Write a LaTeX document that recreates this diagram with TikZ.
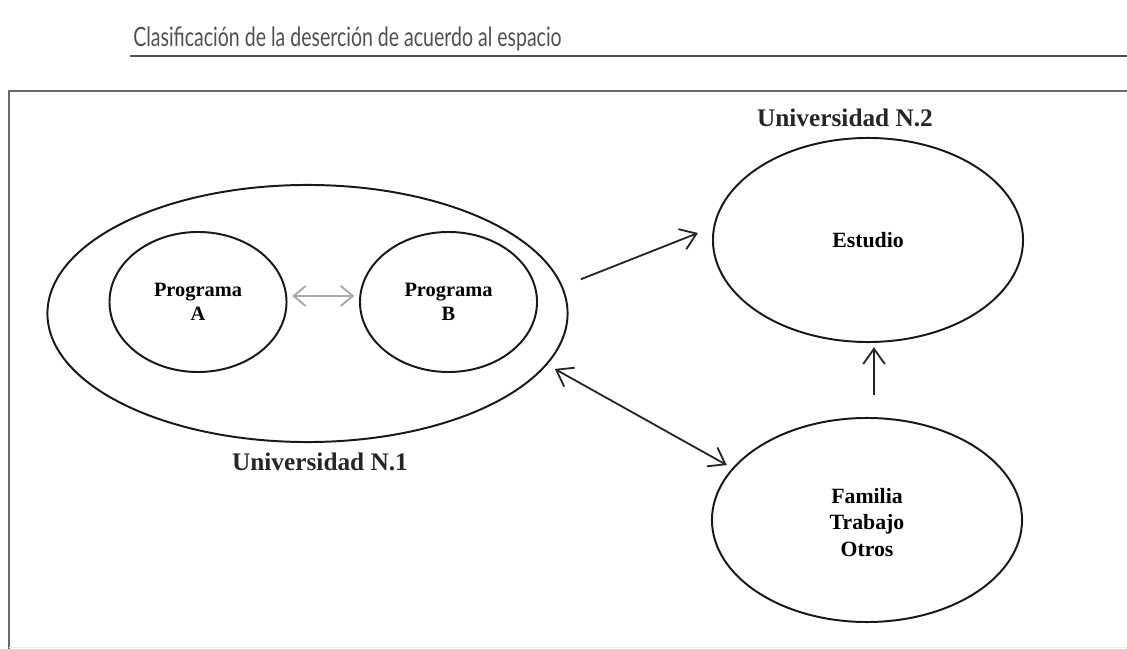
\documentclass[tikz,border=0pt]{standalone}
\usepackage{fontspec}
\setmainfont{Liberation Serif}
\newfontfamily\titlefont[FakeStretch=0.73]{Lato}
\definecolor{framegray}{RGB}{105, 105, 105}
\definecolor{titlegray}{RGB}{80, 80, 80}
\definecolor{softgray}{RGB}{170, 170, 170}
\usetikzlibrary{arrows.meta, shapes.geometric, positioning}
\tikzset{
	place/.style={ellipse, draw=black!90, line width=1.4pt, inner sep=0pt, outer sep=0pt, align=center, font=\bfseries\fontsize{15.5}{19}\selectfont},
	bigplace/.style={place, minimum width=13cm, minimum height=6.425cm},
	prog/.style={place, minimum width=4.425cm, minimum height=3.5cm, font=\bfseries\fontsize{14.5}{17}\selectfont},
	side/.style={place, minimum width=7.75cm, minimum height=5.1cm},
	caption/.style={font=\bfseries\fontsize{18}{21}\selectfont, text=black!85, inner sep=0pt},
	arrow/.style={-{Straight Barb[length=3.8mm, width=5.4mm]}, line width=1.3pt, draw=black!85},
	twoway/.style={{Straight Barb[length=3.8mm, width=5.4mm]}-{Straight Barb[length=3.8mm, width=5.4mm]}, line width=1.3pt, draw=black!85},
	softway/.style={{Straight Barb[length=3mm, width=5mm]}-{Straight Barb[length=3mm, width=5mm]}, line width=1.4pt, draw=softgray},
}
\begin{document}
\begin{tikzpicture}[x=0.025cm, y=-0.025cm]
		\useasboundingbox (0,0) rectangle (1127,649);
		% heading and frame
		\node[anchor=west, inner sep=0pt, text=titlegray, font=\titlefont\fontsize{19}{22}\selectfont] (heading) at (133,39) {Clasificación de la deserción de acuerdo al espacio};
		\draw[titlegray, line width=1.8pt] (130,56) -- (1127,56);
		\draw[framegray, line width=2pt] (1127,91) -- (9,91) -- (9,649);
		\draw[black!8, line width=0.6pt] (9,647) -- (1127,647);
		% places
		\node[bigplace] (univ) at (307.5,313.5) {};
		\node[prog] (progA) at (198,302) {Programa\\A};
		\node[prog] (progB) at (448.5,302) {Programa\\B};
		\node[side] (estudio) at (868,240) {Estudio};
		\node[side] (familia) at (867,520) {\\[-5pt]Familia\\Trabajo\\Otros};
		\node[caption] (univlabel) at (320,462) {Universidad N.1};
		\node[caption] (estlabel) at (845,118) {Universidad N.2};
		% connectors
		\draw[softway, shorten <=0.14cm, shorten >=0.14cm] ([yshift=0.15cm]progA.east) -- ([yshift=0.15cm]progB.west);
		\draw[arrow, shorten <=0.51cm, shorten >=0.44cm] (univ.6.4) -- (estudio.175);
		\draw[twoway, shorten <=0.24cm, shorten >=0.18cm] (univ.-12.9) -- (familia.159);
		\draw[arrow, shorten <=0.58cm, shorten >=0.13cm] ([xshift=0.175cm]familia.north) -- ([xshift=0.15cm]estudio.south);
	\end{tikzpicture}
\end{document}
